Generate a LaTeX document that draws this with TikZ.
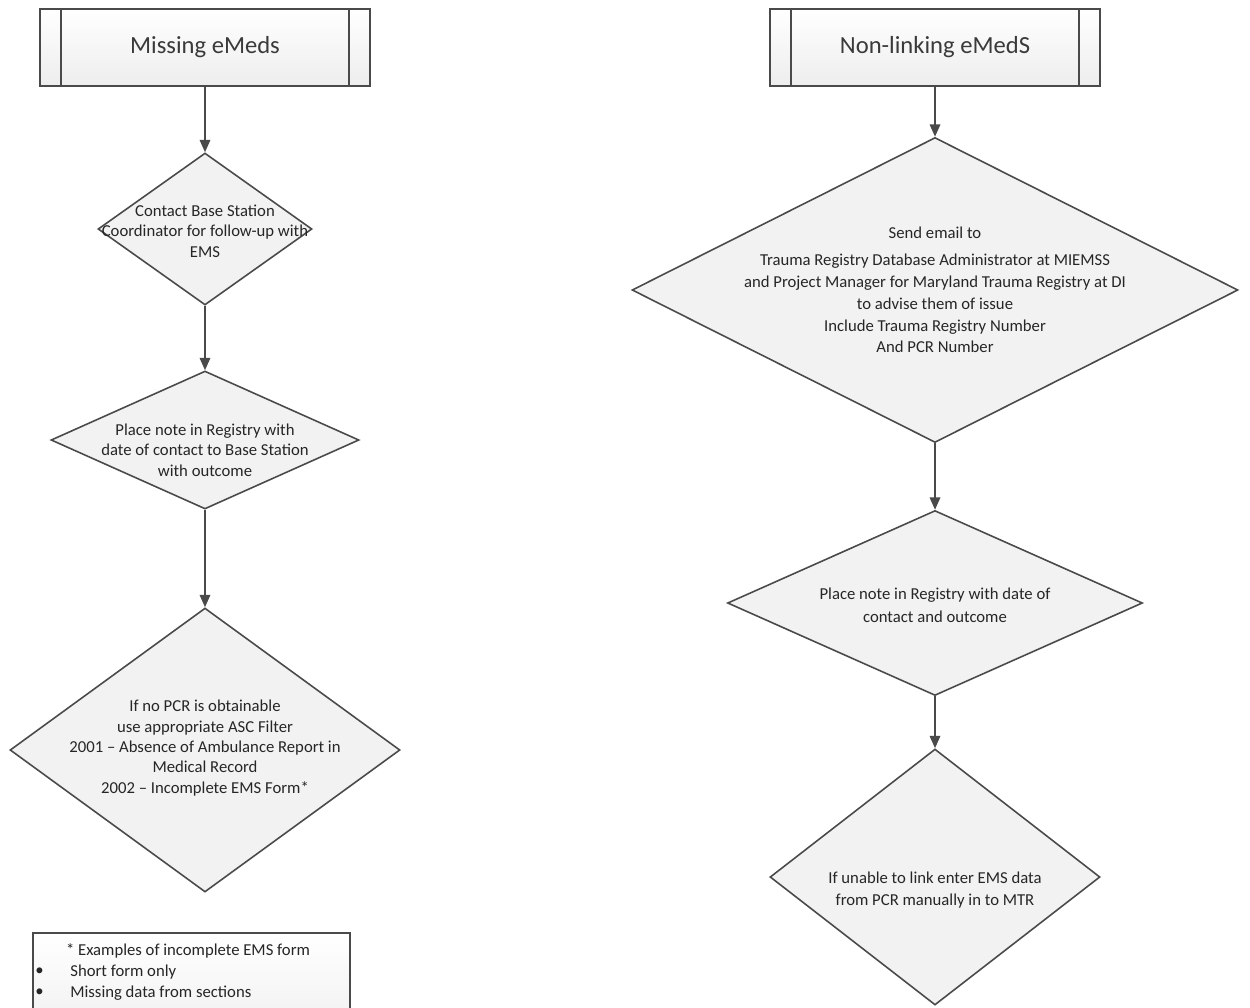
\documentclass[tikz,border=0pt]{standalone}
\usepackage{fontspec}
\setmainfont{Carlito}
\usetikzlibrary{arrows.meta, shapes.geometric, calc}
\definecolor{linegray}{HTML}{4A4A4A}
\definecolor{textgray}{HTML}{3A3A3A}

\begin{document}
\begin{tikzpicture}[
        proc/.style={draw=linegray, line width=0.9pt, top color=white, bottom color=black!7,
            minimum width=6.6cm, minimum height=1.54cm, text=textgray,
            font=\fontsize{14}{16}\selectfont},
        dec/.style={shape=diamond, draw=linegray, line width=0.9pt, fill=black!5, inner sep=0pt},
        txt/.style={align=center, inner sep=0pt, text=black!85, font=\fontsize{9.5}{11.6}\selectfont},
        flow/.style={draw=linegray, line width=0.9pt, -{Triangle[width=6pt,length=7pt]}}
    ]
        \useasboundingbox (0,0) rectangle (25,-20.14);
        \clip (0,0) rectangle (25,-20.14);

        % headers
        \node[proc] (mis) at (4.1,-0.95) {Missing eMeds};
        \node[proc] (non) at (18.7,-0.95) {Non-linking eMedS};
        \foreach \b in {mis,non}{
            \draw[linegray, line width=0.9pt] ($(\b.north west)+(0.44,0)$) -- ($(\b.south west)+(0.44,0)$);
            \draw[linegray, line width=0.9pt] ($(\b.north east)+(-0.44,0)$) -- ($(\b.south east)+(-0.44,0)$);
        }

        % left column
        \node[dec, minimum width=4.28cm, minimum height=3.04cm] (d1L) at (4.1,-4.58) {};
        \node[dec, minimum width=6.16cm, minimum height=2.76cm] (d2L) at (4.1,-8.8) {};
        \node[dec, minimum width=7.8cm, minimum height=5.68cm] (d3L) at (4.1,-15.0) {};
        \node[txt] (t1L) at (4.1,-4.62) {Contact Base Station\\Coordinator for follow-up with\\EMS};
        \node[txt] (t2L) at (4.1,-9.0) {Place note in Registry with\\date of contact to Base Station\\with outcome};
        \node[txt] (t3L) at (4.1,-14.96) {If no PCR is obtainable\\use appropriate ASC Filter\\2001 -- Absence of Ambulance Report in\\Medical Record\\2002 -- Incomplete EMS Form*};

        \draw[flow] (mis) -- (d1L);
        \draw[flow] (d1L) -- (d2L);
        \draw[flow] (d2L) -- (d3L);

        % right column
        \node[dec, minimum width=12.12cm, minimum height=6.1cm] (d1R) at (18.7,-5.8) {};
        \node[dec, minimum width=8.3cm, minimum height=3.7cm] (d2R) at (18.7,-12.06) {};
        \node[dec, minimum width=6.6cm, minimum height=5.12cm] (d3R) at (18.7,-17.54) {};
        \node[txt, font=\fontsize{9.5}{12.4}\selectfont] (t1R) at (18.7,-5.8) {Send email to\\[3pt]Trauma Registry Database Administrator at MIEMSS\\and Project Manager for Maryland Trauma Registry at DI\\to advise them of issue\\Include Trauma Registry Number\\And PCR Number};
        \node[txt, font=\fontsize{9.5}{13}\selectfont] (t2R) at (18.7,-12.1) {Place note in Registry with date of\\contact and outcome};
        \node[txt, font=\fontsize{9.5}{13}\selectfont] (t3R) at (18.7,-17.8) {If unable to link enter EMS data\\from PCR manually in to MTR};

        \draw[flow] (non) -- (d1R);
        \draw[flow] (d1R) -- (d2R);
        \draw[flow] (d2R) -- (d3R);

        % footnote
        \draw[linegray, line width=0.9pt, top color=white, bottom color=black!5] (0.66,-18.66) rectangle (7.0,-20.4);
        \node[txt] (fn) at (3.76,-19.02) {* Examples of incomplete EMS form};
        \node[txt, anchor=west] (b1) at (0.7,-19.44) {\textbullet};
        \node[txt, anchor=west] (i1) at (1.4,-19.44) {Short form only};
        \node[txt, anchor=west] (b2) at (0.7,-19.86) {\textbullet};
        \node[txt, anchor=west] (i2) at (1.4,-19.86) {Missing data from sections};
\end{tikzpicture}
\end{document}
